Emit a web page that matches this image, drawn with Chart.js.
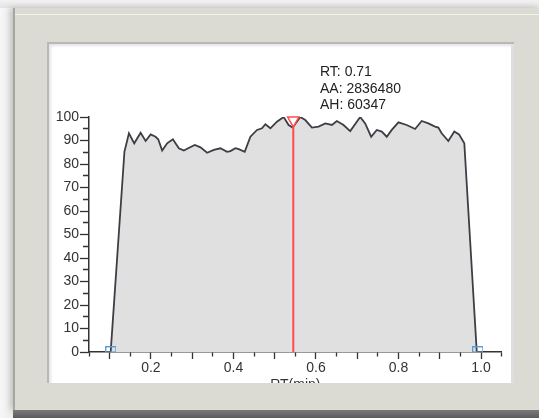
<!DOCTYPE html>
<html>
<head>
<meta charset="utf-8">
<script src="https://cdn.jsdelivr.net/npm/chart.js@4.4.1/dist/chart.umd.min.js"></script>
<style>
    html, body { margin: 0; padding: 0; width: 539px; height: 418px; overflow: hidden; }
    body { position: relative; background: linear-gradient(90deg, #f7f7f7 0px, #ececec 13px); font-family: "Liberation Sans", Arial, sans-serif; }
    #topShade { position: absolute; left: 0; top: 0; width: 539px; height: 8px; background: linear-gradient(180deg, #f2f2f2, #e2e2e2); }
    #frame { position: absolute; left: 13px; top: 8px; width: 526px; height: 402px; background: #dcdbd3; box-shadow: -3px 0 6px rgba(0,0,0,0.18); }
    #frame:before { content: ""; position: absolute; left: 0; top: 0; width: 2px; height: 100%; background: #a7a7a0; }
    #frame:after { content: ""; position: absolute; left: 2px; top: 6px; right: 0; height: 1px; background: #f4f3ec; }
    #bottomBand { position: absolute; left: 13px; top: 410px; width: 526px; height: 8px; background: linear-gradient(180deg, #7a7a7a, #5c5c5c); }
    #panel { position: absolute; left: 47px; top: 42px; width: 467px; height: 341px; background: #ffffff; overflow: hidden;
             box-shadow: inset 2px 2px 0 #b8b8b8, inset 4px 4px 3px #e4e4e4, inset -3px 0 0 #dedede; }
    #chartBox { position: absolute; left: 0; top: 0; width: 467px; height: 355px; }
    #peakInfo { position: absolute; left: 320px; top: 63px; font-size: 14px; line-height: 16.5px; color: #222; white-space: pre; }
</style>
</head>
<body>
<div id="topShade"></div>
<div id="frame"></div>
<div id="bottomBand"></div>
<div id="panel">
    <div id="chartBox"><canvas id="chromChart"></canvas></div>
</div>
<div id="peakInfo">RT: 0.71
AA: 2836480
AH: 60347</div>

<script>
// chromatogram trace (RT in min, signal in %)
const rtValues = [
    0.1025, 0.1359, 0.1468, 0.1596, 0.1751, 0.1872, 0.1993, 0.2114, 0.2177, 0.2273,
    0.2394, 0.2532, 0.2677, 0.2798, 0.2902, 0.3064, 0.3202, 0.3362, 0.3524, 0.3686,
    0.3845, 0.3927, 0.4048, 0.4128, 0.4273, 0.4411, 0.4571, 0.4692, 0.4774, 0.4895,
    0.5054, 0.5216, 0.5337, 0.5434, 0.5620, 0.5741, 0.5901, 0.6063, 0.6225, 0.6385,
    0.6505, 0.6668, 0.6829, 0.7071, 0.7192, 0.7337, 0.7473, 0.7594, 0.7715, 0.7836,
    0.7998, 0.8198, 0.8402, 0.8561, 0.8723, 0.8885, 0.8965, 0.9045, 0.9207, 0.9352,
    0.9466, 0.9594, 0.9896
];
const signalValues = [
    0, 85.3, 93.1, 88.8, 93.3, 89.8, 92.6, 91.6, 90.5, 85.7,
    88.8, 90.5, 86.7, 85.7, 86.7, 88.1, 87.1, 84.8, 86.0, 86.7,
    85.2, 85.5, 86.7, 86.3, 85.2, 91.6, 94.5, 95.2, 96.9, 95.2,
    98.0, 100.0, 96.6, 95.5, 100.0, 98.7, 95.5, 95.9, 97.3, 96.6,
    98.3, 96.6, 94.0, 100.0, 97.3, 91.6, 94.5, 93.8, 91.6, 94.5,
    97.7, 96.6, 94.9, 98.3, 97.3, 95.9, 95.5, 93.1, 89.8, 93.8,
    92.6, 88.8, 0
];

// peak start / end markers
const boundaryRT = [0.103, 0.992];
const boundaryLevel = [1.1, 1.1];

// selected position cursor
const cursorRT = 0.545;
const cursorLevels = [0, 95.8];
const cursorMarkLevel = 98.6;

const X_MIN = 0.05, X_MAX = 1.05, X_STEP = 0.05;
const Y_MIN = 0, Y_MAX = 100, Y_STEP = 5;

const axisColor = '#333333';
const tickFont = { family: '"Liberation Sans", Arial, sans-serif', size: 14 };

function boxMark() {
    const c = document.createElement('canvas');
    c.width = 11;
    c.height = 6;
    const g = c.getContext('2d');
    g.strokeStyle = '#5b9bd8';
    g.lineWidth = 1;
    g.strokeRect(0.5, 0.5, 10, 5);
    return c;
}

const hundredths = (v) => Math.round(v * 100);

const trace = rtValues.map((rt, i) => ({ x: rt, y: signalValues[i] }));
const boundaries = boundaryRT.map((rt, i) => ({ x: rt, y: boundaryLevel[i] }));
const cursorLine = cursorLevels.map((lv) => ({ x: cursorRT, y: lv }));

new Chart(document.getElementById('chromChart'), {
    type: 'line',
    data: {
        datasets: [
            {
                data: trace,
                order: 3,
                borderColor: '#3d3d45',
                borderWidth: 1.8,
                backgroundColor: '#e0e0e0',
                fill: 'origin',
                tension: 0,
                pointRadius: 0
            },
            {
                data: cursorLine,
                order: 2,
                borderColor: '#ff4b4b',
                borderWidth: 2,
                pointRadius: 0,
                fill: false
            },
            {
                data: [{ x: cursorRT, y: cursorMarkLevel }],
                order: 1,
                showLine: false,
                pointStyle: 'triangle',
                rotation: 180,
                pointRadius: 6.5,
                pointBorderWidth: 1.5,
                pointBorderColor: '#ff4b4b',
                pointBackgroundColor: 'rgba(255,255,255,0.85)',
                clip: false
            },
            {
                data: boundaries,
                order: 0,
                showLine: false,
                pointStyle: boxMark(),
                pointRadius: 5,
                clip: false
            }
        ]
    },
    options: {
        responsive: true,
        maintainAspectRatio: false,
        animation: false,
        events: [],
        layout: { padding: { top: 75, right: 12.3, left: 0, bottom: 0 } },
        plugins: { legend: { display: false }, tooltip: { enabled: false } },
        scales: {
            x: {
                type: 'linear',
                min: X_MIN,
                max: X_MAX,
                afterFit: (scale) => { scale.height = 45; },
                border: { display: true, color: axisColor, width: 1.5 },
                grid: {
                    drawOnChartArea: false,
                    tickLength: 7,
                    tickWidth: 1.3,
                    tickColor: axisColor,
                    tickBorderDash: (ctx) => (hundredths(ctx.tick.value) % 10 === 0 ? [] : [4, 100])
                },
                ticks: {
                    stepSize: X_STEP,
                    autoSkip: false,
                    maxRotation: 0,
                    padding: 1,
                    color: '#333',
                    font: tickFont,
                    callback: (v) => (hundredths(v) % 20 === 0 ? (hundredths(v) / 100).toFixed(1) : '')
                },
                title: {
                    display: true,
                    text: 'RT(min)',
                    color: '#333',
                    font: tickFont,
                    padding: { top: 0, bottom: 3 }
                }
            },
            y: {
                type: 'linear',
                min: Y_MIN,
                max: Y_MAX,
                afterFit: (scale) => { scale.width = 42; },
                border: { display: true, color: axisColor, width: 1.5 },
                grid: {
                    drawOnChartArea: false,
                    tickLength: 9,
                    tickWidth: 1.3,
                    tickColor: axisColor,
                    tickBorderDash: (ctx) => (Math.round(ctx.tick.value) % 10 === 0 ? [] : [0, 3, 6, 100])
                },
                ticks: {
                    stepSize: Y_STEP,
                    autoSkip: false,
                    padding: 1,
                    color: '#333',
                    font: tickFont,
                    callback: (v) => (Math.round(v) % 10 === 0 ? String(v) : '')
                }
            }
        }
    }
});
</script>
</body>
</html>
